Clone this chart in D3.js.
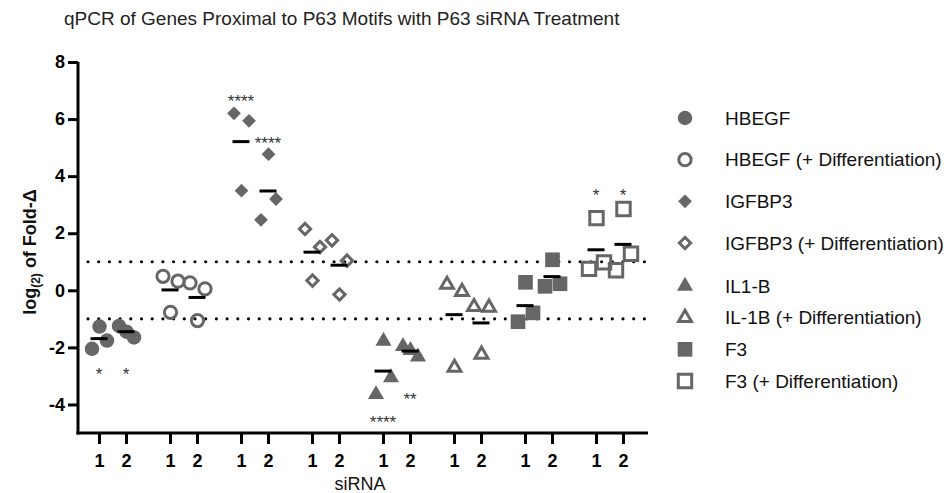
<!DOCTYPE html>
<html>
<head>
<meta charset="utf-8">
<script src="https://cdn.jsdelivr.net/npm/d3@7"></script>
<style>
  body { margin: 0; background: #fff; }
  text { font-family: Arial, "Liberation Sans", sans-serif; }
</style>
</head>
<body>
<svg id="chart" width="946" height="493"></svg>
<script>
// genes in plotting order (also the legend order)
var genes = ["HBEGF", "HBEGF (+ Differentiation)", "IGFBP3", "IGFBP3 (+ Differentiation)",
  "IL1-B", "IL-1B (+ Differentiation)", "F3", "F3 (+ Differentiation)"];
var sirnas = ["1", "2"];
var yTicks = [-4, -2, 0, 2, 4, 6, 8];
var cutoffs = [1, -1];

// log2 fold change, 3 replicates for siRNA 1 and siRNA 2
var hbegf      = [[-2.05, -1.27, -1.76], [-1.25, -1.45, -1.65]];
var hbegfDiff  = [[0.49, -0.77, 0.32], [0.26, -1.06, 0.05]];
var igfbp3     = [[6.20, 3.49, 5.94], [2.47, 4.77, 3.20]];
var igfbp3Diff = [[2.15, 0.34, 1.52], [1.75, -0.15, 1.04]];
var il1b       = [[-3.65, -1.78, -3.06], [-1.96, -2.10, -2.33]];
var il1bDiff   = [[0.20, -2.71, -0.05], [-0.58, -2.25, -0.60]];
var f3         = [[-1.10, 0.28, -0.79], [0.14, 1.07, 0.23]];
var f3Diff     = [[0.75, 2.53, 0.98], [0.70, 2.85, 1.28]];
var values = [hbegf, hbegfDiff, igfbp3, igfbp3Diff, il1b, il1bDiff, f3, f3Diff];

// significance stars
var sigGene  = ["HBEGF", "HBEGF", "IGFBP3", "IGFBP3", "IL1-B", "IL1-B",
  "F3 (+ Differentiation)", "F3 (+ Differentiation)"];
var sigSirna = ["1", "2", "1", "2", "1", "2", "1", "2"];
var sigText  = ["*", "*", "****", "****", "****", "**", "*", "*"];
var sigY     = [-2.8, -2.8, 6.75, 5.3, -4.5, -3.7, 3.45, 3.45];

var shapes = ["circle", "circle", "diamond", "diamond", "triangle", "triangle", "square", "square"];
var gray = "#666";

var svg = d3.select("#chart");

var x = d3.scaleBand().domain(genes).range([77, 645]);
var inner = d3.scalePoint().domain(sirnas).range([0, x.bandwidth()]).padding(0.815);
var rep = d3.scalePoint().domain([0, 1, 2]).range([-7, 8]);
var y = d3.scaleLinear().domain([-5, 8]).range([433, 62]);

function symbolPath( i ){
  var filled = i % 2 === 0;
  var s = shapes[i];
  if( s === "circle" ) return d3.symbol( d3.symbolCircle, filled ? 165 : 118 )();
  if( s === "diamond" ) return d3.symbol( d3.symbolSquare, filled ? 95 : 64 )();
  if( s === "triangle" ) return d3.symbol( d3.symbolTriangle, filled ? 112 : 72 )();
  return d3.symbol( d3.symbolSquare, filled ? 215 : 180 )();
}
function symbolStyle( sel, i ){
  var filled = i % 2 === 0;
  sel.attr( "fill", filled ? gray : "none" )
    .attr( "stroke", filled ? "none" : gray )
    .attr( "stroke-width", filled ? 0 : 3 );
}
function rot( i ){ return shapes[i] === "diamond" ? " rotate(45)" : ""; }

// title
svg.append( "text" )
  .attr( "x", 64 ).attr( "y", 25 )
  .attr( "font-size", 19 ).attr( "fill", "#222" )
  .text( "qPCR of Genes Proximal to P63 Motifs with P63 siRNA Treatment" );

// dotted cutoff lines
svg.selectAll( ".cut" ).data( cutoffs ).enter()
  .append( "line" )
  .attr( "x1", 88 ).attr( "x2", 648 )
  .attr( "y1", function( d ){ return y( d ); } )
  .attr( "y2", function( d ){ return y( d ); } )
  .attr( "stroke", "#000" ).attr( "stroke-width", 3.2 )
  .attr( "stroke-linecap", "round" )
  .attr( "stroke-dasharray", "0 10.7" );

// y axis
var yAxis = svg.append( "g" )
  .attr( "transform", "translate(78,0)" )
  .call( d3.axisLeft( y ).tickValues( yTicks ).tickSize( 10 ).tickSizeOuter( 0 ).tickPadding( 3 )
    .tickFormat( function( d ){ return String( d ); } ) );
yAxis.selectAll( "path, line" ).attr( "stroke", "#000" ).attr( "stroke-width", 3 );
yAxis.select( ".domain" ).attr( "d", "M0," + ( y( -5 ) + 1.5 ) + "V" + y( 8 ) );
yAxis.selectAll( "text" ).attr( "font-size", 18 ).attr( "font-weight", "bold" ).attr( "fill", "#000" )
  .attr( "font-family", "Arial, 'Liberation Sans', sans-serif" );

// x axis: one small axis per gene
svg.append( "line" )
  .attr( "x1", 76.5 ).attr( "x2", 648 )
  .attr( "y1", y( -5 ) ).attr( "y2", y( -5 ) )
  .attr( "stroke", "#000" ).attr( "stroke-width", 3 );
genes.forEach( function( g ){
  var ax = svg.append( "g" )
    .attr( "transform", "translate(" + x( g ) + "," + y( -5 ) + ")" )
    .call( d3.axisBottom( inner ).tickSize( 11 ).tickSizeOuter( 0 ).tickPadding( 10 ) );
  ax.select( ".domain" ).remove();
  ax.selectAll( "line" ).attr( "stroke", "#000" ).attr( "stroke-width", 3 );
  ax.selectAll( "text" ).attr( "font-size", 18 ).attr( "font-weight", "bold" ).attr( "fill", "#000" )
    .attr( "font-family", "Arial, 'Liberation Sans', sans-serif" );
} );

// axis titles
svg.append( "text" )
  .attr( "x", 360 ).attr( "y", 490 )
  .attr( "text-anchor", "middle" ).attr( "font-size", 18 ).attr( "fill", "#111" )
  .text( "siRNA" );

var yl = svg.append( "text" )
  .attr( "transform", "translate(36,252) rotate(-90)" )
  .attr( "text-anchor", "middle" ).attr( "font-size", 18 ).attr( "font-weight", "bold" )
  .attr( "fill", "#111" );
yl.append( "tspan" ).text( "log" );
yl.append( "tspan" ).attr( "font-size", 12 ).attr( "dy", 4 ).text( "(2)" );
yl.append( "tspan" ).attr( "dy", -4 ).text( " of Fold-\u0394" );

// points
var pts = [];
values.forEach( function( gv, gi ){
  gv.forEach( function( reps, si ){
    reps.forEach( function( v, ri ){
      pts.push( { gene: gi, sirna: sirnas[si], rep: ri, value: v } );
    } );
  } );
} );

svg.append( "g" ).selectAll( "path" ).data( pts ).enter()
  .append( "path" )
  .attr( "d", function( d ){ return symbolPath( d.gene ); } )
  .attr( "transform", function( d ){
    var px = x( genes[d.gene] ) + inner( d.sirna ) + rep( d.rep );
    return "translate(" + px + "," + y( d.value ) + ")" + rot( d.gene );
  } )
  .each( function( d ){ symbolStyle( d3.select( this ), d.gene ); } );

// mean lines
var means = [];
values.forEach( function( gv, gi ){
  gv.forEach( function( reps, si ){
    means.push( { gene: genes[gi], sirna: sirnas[si], value: d3.mean( reps ) } );
  } );
} );
svg.append( "g" ).selectAll( "line" ).data( means ).enter()
  .append( "line" )
  .attr( "x1", function( d ){ return x( d.gene ) + inner( d.sirna ) - 8.5; } )
  .attr( "x2", function( d ){ return x( d.gene ) + inner( d.sirna ) + 8.5; } )
  .attr( "y1", function( d ){ return y( d.value ); } )
  .attr( "y2", function( d ){ return y( d.value ); } )
  .attr( "stroke", "#000" ).attr( "stroke-width", 3 );

// significance stars
svg.append( "g" ).selectAll( "text" ).data( sigText ).enter()
  .append( "text" )
  .attr( "x", function( d, i ){ return x( sigGene[i] ) + inner( sigSirna[i] ); } )
  .attr( "y", function( d, i ){ return y( sigY[i] ) + 9.5; } )
  .attr( "text-anchor", "middle" ).attr( "font-size", 17 ).attr( "fill", "#333" )
  .text( function( d ){ return d; } );

// legend
var ly = d3.scaleLinear().domain( [0, 3, 4, 7] ).range( [118, 243, 286, 381] );
var leg = svg.append( "g" ).selectAll( "g" ).data( genes ).enter()
  .append( "g" )
  .attr( "transform", function( d, i ){ return "translate(685," + ly( i ) + ")"; } );
leg.append( "path" )
  .attr( "d", function( d, i ){ return symbolPath( i ); } )
  .attr( "transform", function( d, i ){ return rot( i ).trim(); } )
  .each( function( d, i ){ symbolStyle( d3.select( this ), i ); } );
leg.append( "text" )
  .attr( "x", 40 ).attr( "y", 6.8 )
  .attr( "font-size", 19 ).attr( "fill", "#111" )
  .text( function( d ){ return d; } );
</script>
</body>
</html>
